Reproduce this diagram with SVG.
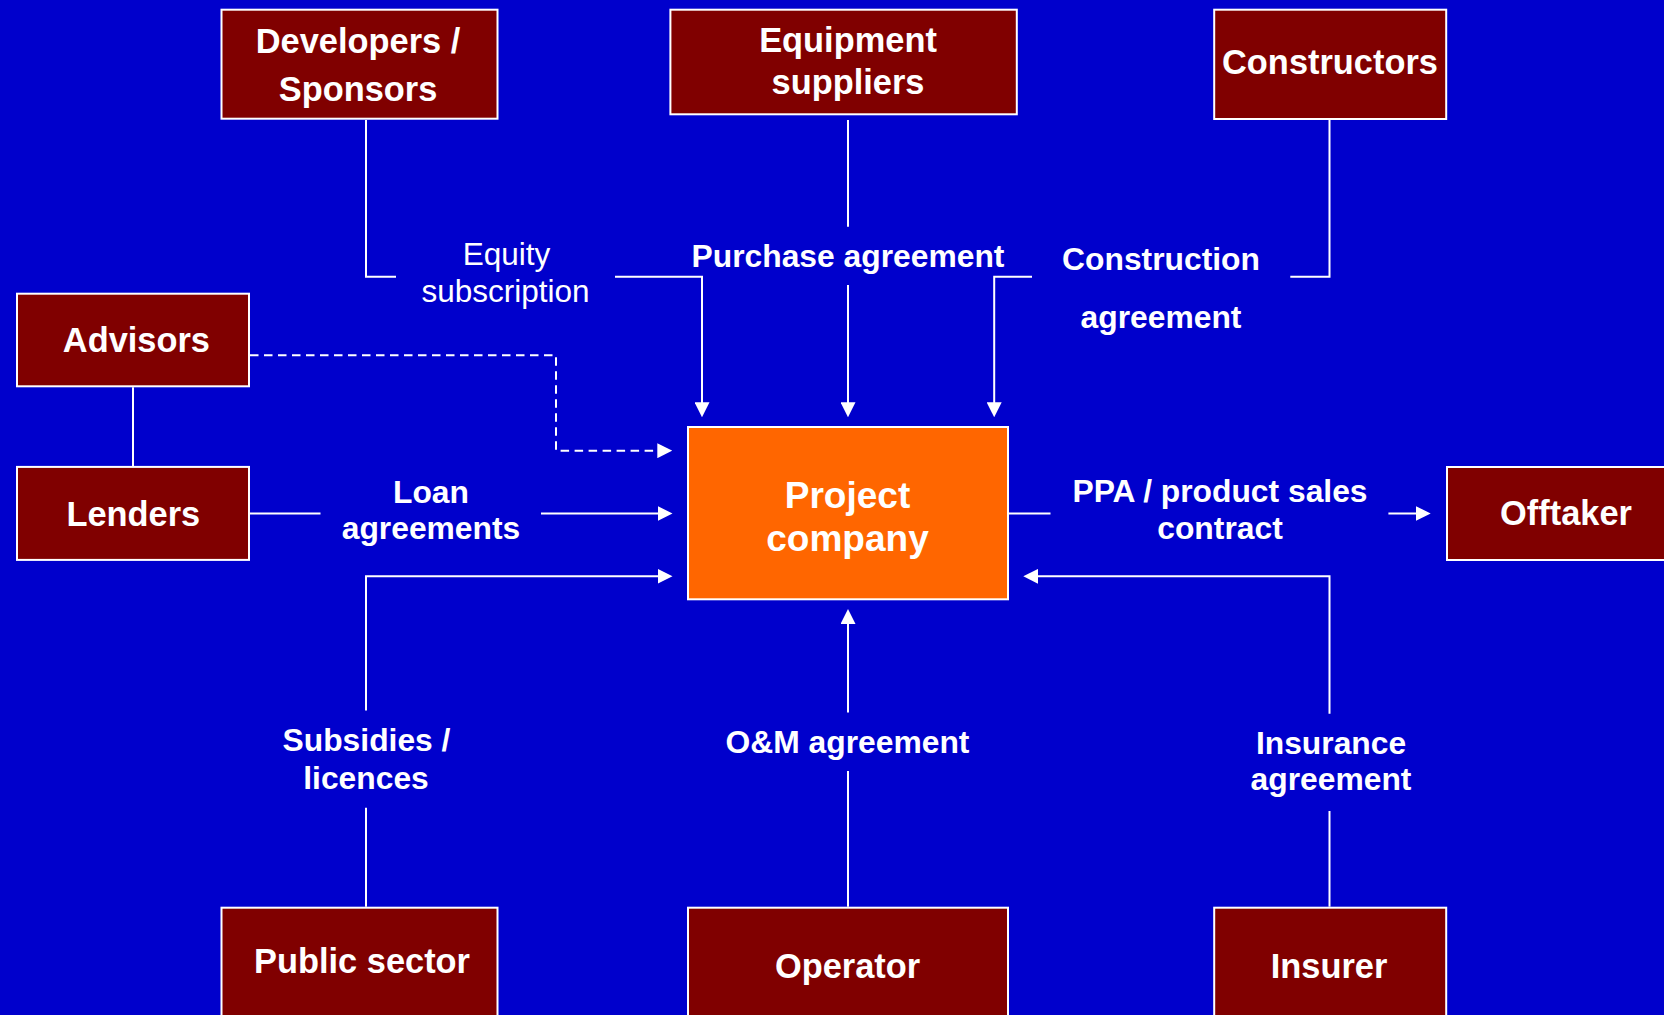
<svg xmlns="http://www.w3.org/2000/svg" width="1664" height="1015" viewBox="0 0 1664 1015">
<defs>
<style>
.box{fill:#800000;stroke:#ffffff;stroke-width:2}
.main{fill:#ff6600;stroke:#ffffff;stroke-width:2}
.nt{font-family:"Liberation Sans",Arial,sans-serif;font-weight:bold;font-size:34.4px;fill:#ffffff;text-anchor:middle}
.mt{font-family:"Liberation Sans",Arial,sans-serif;font-weight:bold;font-size:37px;fill:#ffffff;text-anchor:middle}
.lt{font-family:"Liberation Sans",Arial,sans-serif;font-weight:bold;font-size:31.8px;fill:#ffffff;text-anchor:middle}
.lr{font-family:"Liberation Sans",Arial,sans-serif;font-weight:normal;font-size:31.5px;fill:#ffffff;text-anchor:middle}
.ln{fill:none;stroke:#ffffff;stroke-width:2}
.dash{stroke-dasharray:8.5 5.5}
</style>
<marker id="arr" viewBox="0 0 15 15" refX="8" refY="7.5" markerWidth="15" markerHeight="15" markerUnits="userSpaceOnUse" orient="auto">
<path d="M0,0 L15,7.5 L0,15 z" fill="#ffffff"/>
</marker>
</defs>
<rect x="0" y="0" width="1664" height="1015" fill="#0000cc"/>

<g id="connectors">
<path class="ln" d="M366,120 V276.7 H396"/>
<path class="ln" d="M615,276.7 H702 V410.3" marker-end="url(#arr)"/>
<path class="ln" d="M848,120 V226.7"/>
<path class="ln" d="M848,285 V410.3" marker-end="url(#arr)"/>
<path class="ln" d="M1329.5,120 V276.7 H1290.3"/>
<path class="ln" d="M1032,276.7 H994.2 V410.3" marker-end="url(#arr)"/>
<path class="ln dash" d="M250,355.3 H556 V450.7 H665.3" marker-end="url(#arr)"/>
<path class="ln" d="M133,387.3 V465.9"/>
<path class="ln" d="M250,513.5 H320.5"/>
<path class="ln" d="M541,513.5 H665.5" marker-end="url(#arr)"/>
<path class="ln" d="M366,906.7 V807.8"/>
<path class="ln" d="M366,710.6 V576.3 H665.5" marker-end="url(#arr)"/>
<path class="ln" d="M848,906.7 V771"/>
<path class="ln" d="M848,712.5 V616" marker-end="url(#arr)"/>
<path class="ln" d="M1329.5,906.7 V811"/>
<path class="ln" d="M1329.5,713.7 V576.3 H1030.3" marker-end="url(#arr)"/>
<path class="ln" d="M1009,513.5 H1050.5"/>
<path class="ln" d="M1388.4,513.5 H1423.7" marker-end="url(#arr)"/>
</g>

<g id="labels">
<text class="lr" x="506.5" y="265">Equity</text>
<text class="lr" x="505.5" y="301.7">subscription</text>
<text class="lt" x="848" y="266.7">Purchase agreement</text>
<text class="lt" x="1161" y="270">Construction</text>
<text class="lt" x="1161" y="328.3">agreement</text>
<text class="lt" x="431" y="502.7">Loan</text>
<text class="lt" x="431" y="539.2">agreements</text>
<text class="lt" x="1220" y="502">PPA / product sales</text>
<text class="lt" x="1220" y="539.2">contract</text>
<text class="lt" x="366.5" y="751">Subsidies /</text>
<text class="lt" x="366" y="789.4">licences</text>
<text class="lt" x="847.5" y="753">O&amp;M agreement</text>
<text class="lt" x="1331" y="754">Insurance</text>
<text class="lt" x="1331" y="790">agreement</text>
</g>

<g id="developers">
<rect class="box" x="221.5" y="9.7" width="276" height="109"/>
<text class="nt" x="358" y="52.7">Developers /</text>
<text class="nt" x="358" y="100.7">Sponsors</text>
</g>
<g id="equipment">
<rect class="box" x="670.4" y="9.7" width="346.4" height="104.6"/>
<text class="nt" x="848" y="52.3">Equipment</text>
<text class="nt" x="848" y="94">suppliers</text>
</g>
<g id="constructors">
<rect class="box" x="1214.2" y="9.7" width="232" height="109.3"/>
<text class="nt" x="1330" y="74">Constructors</text>
</g>
<g id="advisors">
<rect class="box" x="17" y="293.7" width="232" height="92.6"/>
<text class="nt" x="136.4" y="351.7">Advisors</text>
</g>
<g id="lenders">
<rect class="box" x="17" y="466.9" width="232" height="93"/>
<text class="nt" x="133.3" y="525.5">Lenders</text>
</g>
<g id="project">
<rect class="main" x="688" y="427" width="320" height="172.3"/>
<text class="mt" x="847.5" y="507.8">Project</text>
<text class="mt" x="847.5" y="551">company</text>
</g>
<g id="offtaker">
<rect class="box" x="1447" y="467" width="240" height="93"/>
<text class="nt" x="1566" y="524.7">Offtaker</text>
</g>
<g id="public">
<rect class="box" x="221.5" y="907.7" width="276" height="120"/>
<text class="nt" x="362" y="973.3">Public sector</text>
</g>
<g id="operator">
<rect class="box" x="688" y="907.7" width="320" height="120"/>
<text class="nt" x="847.5" y="978.4">Operator</text>
</g>
<g id="insurer">
<rect class="box" x="1214.2" y="907.7" width="232" height="120"/>
<text class="nt" x="1329" y="978.4">Insurer</text>
</g>
</svg>
